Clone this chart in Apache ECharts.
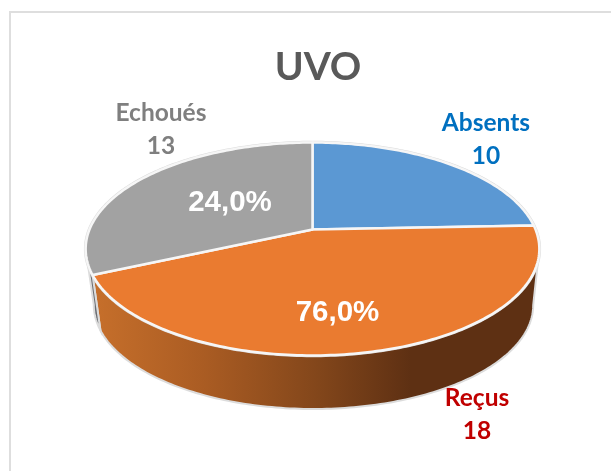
<!DOCTYPE html>
<html>
<head>
<meta charset="utf-8">
<style>html,body{margin:0;padding:0;background:#fff}#c{width:611px;height:471px}</style>
<script src="https://cdn.jsdelivr.net/npm/echarts@6/dist/echarts.min.js"></script>
</head>
<body>
<div id="c"></div>
<script>
const chartTitle = 'UVO';
const categories = ['Absents', 'Reçus', 'Echoués'];
const values = [10, 18, 13];
const percentLabels = ['', '76,0%', '24,0%'];

const topFace = { cx: 312.5, cy: 229.5, a: 102.9, b: 223, k: 0.183 };
const bottomFace = { cx: 313.5, cy: 286, a: 100.5, b: 216, k: 0.183 };
const visibleSide = [100.5, 259.5];
const topColors = ['#5b98d3', '#ea7b30', '#a2a2a2'];
const labelColors = ['#0070c0', '#c00000', '#7f7f7f'];
const labelPos = [[486, 139.5], [477, 415], [161, 129.5]];
const percentPos = [null, [337.5, 313], [230, 203]];
const total = values.reduce((s, v) => s + v, 0);

function sliceRange(i) {
  let before = 0;
  for (let j = 0; j < i; j++) before += values[j];
  return [before / total * 360, (before + values[i]) / total * 360];
}
function project(f, deg) {
  const t = deg * Math.PI / 180;
  const x = Math.sin(t), y = -Math.cos(t), d = 1 - f.k * y;
  return [f.cx + f.b * x / d, f.cy + f.a * y / d];
}
function arc(f, from, to) {
  const pts = [], n = Math.max(2, Math.ceil(Math.abs(to - from)));
  for (let i = 0; i <= n; i++) pts.push(project(f, from + (to - from) * i / n));
  return pts;
}
const sideFills = [
  '#3f6f9c',
  { type: 'linear', x: 94, y: 0, x2: 534, y2: 0, global: true, colorStops: [
    { offset: 0, color: '#c66f2b' }, { offset: 0.25, color: '#aa5c23' },
    { offset: 0.5, color: '#84471b' }, { offset: 0.72, color: '#5e3013' }, { offset: 1, color: '#5e3013' }] },
  '#6b6e72'
];

function renderSide(params, api) {
  const i = params.dataIndex;
  const r = sliceRange(i);
  const from = Math.max(r[0], visibleSide[0]);
  const to = Math.min(r[1], visibleSide[1]);
  if (from >= to) return null;
  return {
    type: 'polygon', silent: true,
    shape: { points: arc(topFace, from, to).concat(arc(bottomFace, to, from)) },
    style: { fill: sideFills[i], stroke: '#dcdcdc', lineWidth: 2 }
  };
}
function renderTop(params, api) {
  const i = params.dataIndex;
  const r = sliceRange(i);
  const pts = [[topFace.cx, topFace.cy]].concat(arc(topFace, r[0], r[1]));
  return {
    type: 'group', children: [
      { type: 'polyline', silent: true, shape: { points: arc(topFace, r[0], r[1]) },
        style: { fill: 'none', stroke: '#dcdcdc', lineWidth: 3.5 } },
      { type: 'polygon', silent: true, shape: { points: pts },
        style: { fill: topColors[i], stroke: '#f6f6f6', lineWidth: 2.5, lineJoin: 'round' } }
    ]
  };
}
function renderLabels(params, api) {
  const i = params.dataIndex;
  const children = [{
    type: 'text', silent: true, x: labelPos[i][0], y: labelPos[i][1],
    style: { text: categories[i] + '\n' + api.value(0), align: 'center', verticalAlign: 'middle',
      fontFamily: 'Lato', fontWeight: 'bold', fontSize: 24.5, lineHeight: 33, fill: labelColors[i] }
  }];
  if (percentLabels[i]) children.push({
    type: 'text', silent: true, x: percentPos[i][0], y: percentPos[i][1],
    style: { text: percentLabels[i], align: 'center', verticalAlign: 'middle',
      fontFamily: 'Liberation Sans', fontWeight: 'bold', fontSize: 29.5, fill: '#fff' }
  });
  return { type: 'group', children };
}

const chart = echarts.init(document.getElementById('c'), null, { renderer: 'canvas' });
chart.setOption({
  animation: false,
  backgroundColor: '#fff',
  title: { text: chartTitle, left: 313, top: 43, textAlign: 'center',
    textStyle: { fontFamily: 'Lato', fontWeight: 'bold', fontSize: 39, color: '#595959' } },
  graphic: [{ type: 'rect', silent: true, z: -1, shape: { x: 10, y: 12, width: 640, height: 500 },
    style: { fill: '#fff', stroke: '#dedede', lineWidth: 2 } }],
  series: [
    { type: 'custom', coordinateSystem: 'none', renderItem: renderSide, data: values, z: 2 },
    { type: 'custom', coordinateSystem: 'none', renderItem: renderTop, data: values, z: 3 },
    { type: 'custom', coordinateSystem: 'none', renderItem: renderLabels, data: values, z: 4 }
  ]
});
</script>
</body>
</html>
